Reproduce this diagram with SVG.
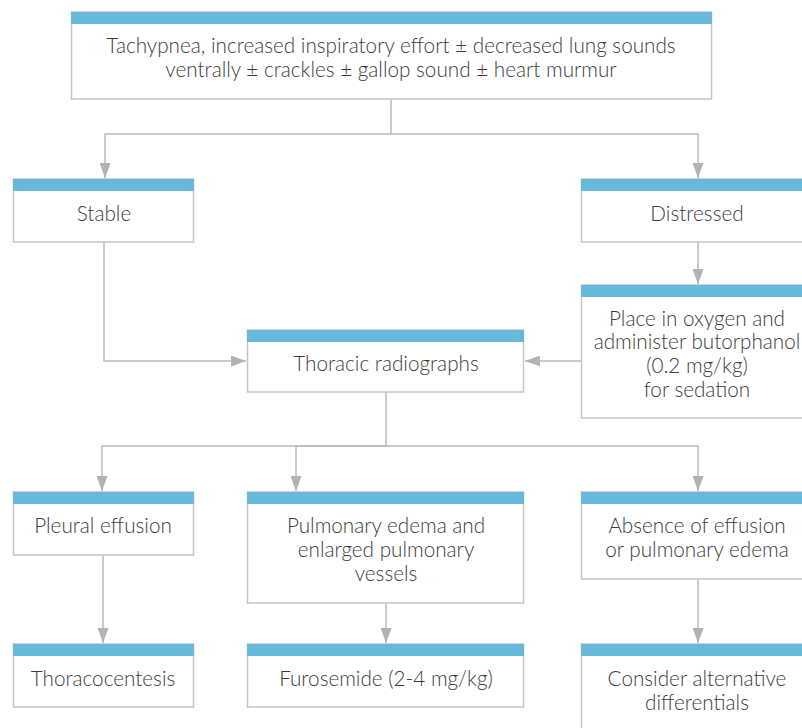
<svg xmlns="http://www.w3.org/2000/svg" width="802" height="728" viewBox="0 0 802 728">
<style>
.box{fill:#fff;stroke:#c6c6c6;stroke-width:1.5}
.bar{fill:#66b8dc}
.t{font-family:Lato,"Open Sans",sans-serif;font-weight:300;font-size:20.7px;fill:#3c3c3c;text-anchor:middle}
.c{fill:none;stroke:#b9babe;stroke-width:1.5}
</style>
<defs>
<marker id="ah" viewBox="0 0 15 11" refX="15" refY="5.5" markerWidth="15" markerHeight="11" markerUnits="userSpaceOnUse" orient="auto">
<path d="M0,0 L15,5.5 L0,11 z" fill="#b2b3b8"/>
</marker>
</defs>
<rect width="802" height="728" fill="#fff"/>
<g id="connectors">
<path class="c" d="M391,99 V134 H105 V178" marker-end="url(#ah)"/>
<path class="c" d="M391,134 H698 V178" marker-end="url(#ah)"/>
<path class="c" d="M104,242 V361 H246" marker-end="url(#ah)"/>
<path class="c" d="M698,242 V284" marker-end="url(#ah)"/>
<path class="c" d="M581,361 H525" marker-end="url(#ah)"/>
<path class="c" d="M386,392 V446 H102 V491" marker-end="url(#ah)"/>
<path class="c" d="M386,446 H296 V491" marker-end="url(#ah)"/>
<path class="c" d="M386,446 H698 V491" marker-end="url(#ah)"/>
<path class="c" d="M103,555 V643" marker-end="url(#ah)"/>
<path class="c" d="M386,603 V643" marker-end="url(#ah)"/>
<path class="c" d="M698,579 V643" marker-end="url(#ah)"/>
</g>
<g id="top">
<rect class="box" x="71.5" y="12" width="640" height="87"/>
<rect class="bar" x="71" y="12" width="641" height="12"/>
<text class="t" x="391" y="53">Tachypnea, increased inspiratory effort ± decreased lung sounds</text>
<text class="t" x="391" y="77">ventrally ± crackles ± gallop sound ± heart murmur</text>
</g>
<g id="stable">
<rect class="box" x="13.5" y="179" width="180" height="63"/>
<rect class="bar" x="13" y="179" width="181" height="12"/>
<text class="t" x="104" y="221">Stable</text>
</g>
<g id="distressed">
<rect class="box" x="581.5" y="179" width="240" height="63"/>
<rect class="bar" x="581" y="179" width="241" height="12"/>
<text class="t" x="697" y="221">Distressed</text>
</g>
<g id="oxygen">
<rect class="box" x="581.5" y="285" width="240" height="133"/>
<rect class="bar" x="581" y="285" width="241" height="12"/>
<text class="t" x="697" y="326">Place in oxygen and</text>
<text class="t" x="697" y="349">administer butorphanol</text>
<text class="t" x="697" y="373">(0.2 mg/kg)</text>
<text class="t" x="697" y="397">for sedation</text>
</g>
<g id="radiographs">
<rect class="box" x="247.5" y="330" width="276" height="62"/>
<rect class="bar" x="247" y="330" width="277" height="12"/>
<text class="t" x="386" y="371">Thoracic radiographs</text>
</g>
<g id="pleural">
<rect class="box" x="13.5" y="492" width="180" height="63"/>
<rect class="bar" x="13" y="492" width="181" height="12"/>
<text class="t" x="103" y="533">Pleural effusion</text>
</g>
<g id="edema">
<rect class="box" x="247.5" y="492" width="276" height="111"/>
<rect class="bar" x="247" y="492" width="277" height="12"/>
<text class="t" x="386" y="533">Pulmonary edema and</text>
<text class="t" x="386" y="557">enlarged pulmonary</text>
<text class="t" x="386" y="581">vessels</text>
</g>
<g id="absence">
<rect class="box" x="581.5" y="492" width="240" height="87"/>
<rect class="bar" x="581" y="492" width="241" height="12"/>
<text class="t" x="697" y="533">Absence of effusion</text>
<text class="t" x="697" y="557">or pulmonary edema</text>
</g>
<g id="thoracocentesis">
<rect class="box" x="13.5" y="644" width="180" height="63"/>
<rect class="bar" x="13" y="644" width="181" height="12"/>
<text class="t" x="103" y="686">Thoracocentesis</text>
</g>
<g id="furosemide">
<rect class="box" x="247.5" y="644" width="276" height="63"/>
<rect class="bar" x="247" y="644" width="277" height="12"/>
<text class="t" x="386" y="686">Furosemide (2-4 mg/kg)</text>
</g>
<g id="alternative">
<rect class="box" x="581.5" y="644" width="240" height="100"/>
<rect class="bar" x="581" y="644" width="241" height="12"/>
<text class="t" x="697" y="686">Consider alternative</text>
<text class="t" x="697" y="710">differentials</text>
</g>
</svg>
